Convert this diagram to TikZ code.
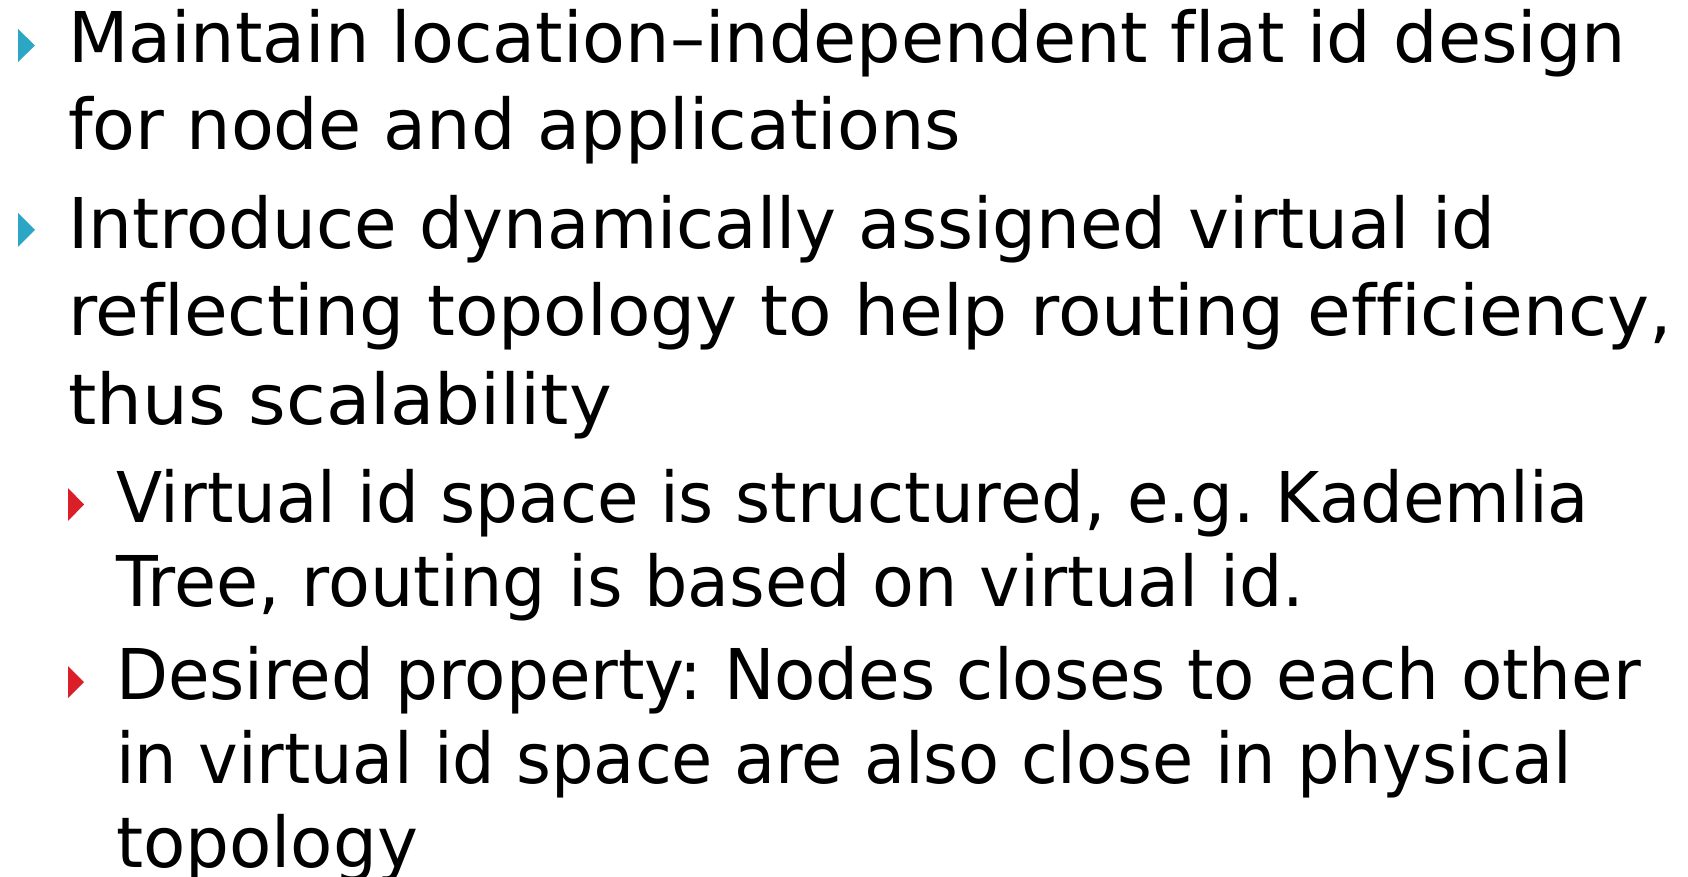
\documentclass[tikz,border=0pt]{standalone}
\usepackage{fontspec}
\setmainfont{DejaVu Sans}[Ligatures=NoCommon]
\usepackage{graphicx}
\definecolor{bulletteal}{RGB}{43,166,196}
\definecolor{bulletred}{RGB}{218,31,40}
\newcommand\fitline[2]{\resizebox{#1pt}{\height}{#2}}
\tikzset{
  txtline/.style={anchor=base west, inner sep=0pt, outer sep=0pt, font=\fontsize{70}{84}\selectfont},
  tealbullet/.style={fill=bulletteal},
  redbullet/.style={fill=bulletred}
}
\frenchspacing
\begin{document}
\frenchspacing
\begin{tikzpicture}[x=1pt,y=-1pt]
\useasboundingbox (0,0) rectangle (1688,877);
% level-1 bullets
\fill[tealbullet] (18,29) -- (35,45.5) -- (18,62) -- cycle;
\fill[tealbullet] (18,213) -- (35,230) -- (18,247) -- cycle;
% level-2 bullets
\fill[redbullet] (68,488) -- (84,504.5) -- (68,521) -- cycle;
\fill[redbullet] (68,666) -- (84,682) -- (68,698) -- cycle;
% text lines
\node[txtline] (l1) at (68,63) {\fitline{1558}{Maintain location–independent flat id design}};
\node[txtline] (l2) at (68,150) {\fitline{893}{for node and applications}};
\node[txtline] (l3) at (68,248) {\fitline{1427}{Introduce dynamically assigned virtual id}};
\node[txtline] (l4) at (68,335) {\fitline{1604}{reflecting topology to help routing efficiency,}};
\node[txtline] (l5) at (68,424) {\fitline{544}{thus scalability}};
\node[txtline] (l6) at (116,522) {\fitline{1473}{Virtual id space is structured, e.g. Kademlia}};
\node[txtline] (l7) at (116,606) {\fitline{1188}{Tree, routing is based on virtual id.}};
\node[txtline] (l8) at (116,699) {\fitline{1525}{Desired property: Nodes closes to each other}};
\node[txtline] (l9) at (116,783) {\fitline{1456}{in virtual id space are also close in physical}};
\node[txtline] (l10) at (116,867) {\fitline{302}{topology}};
\end{tikzpicture}
\end{document}
